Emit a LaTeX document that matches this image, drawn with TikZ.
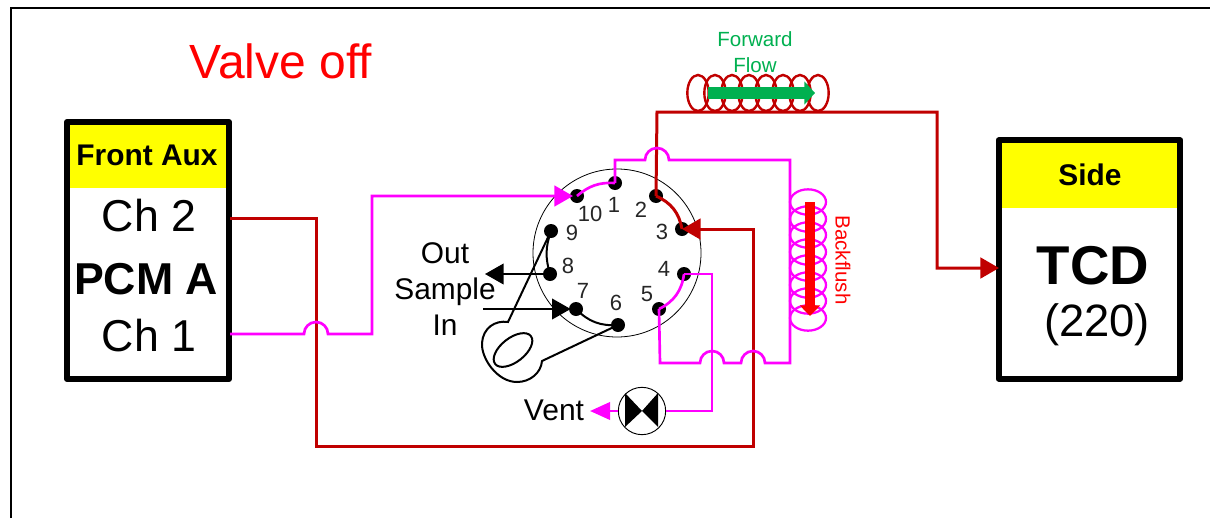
\documentclass[tikz,border=0pt]{standalone}
\usepackage{fontspec}
\setmainfont{Liberation Sans}
\usetikzlibrary{arrows.meta}
\usetikzlibrary{positioning}

\definecolor{darkred}{HTML}{C00000}
\definecolor{flowgreen}{HTML}{00B050}
\definecolor{hotpink}{HTML}{FF00FF}
\definecolor{headyellow}{HTML}{FFFF00}

\tikzset{
    port/.style={circle,fill=black,inner sep=0pt,minimum size=10.5pt},
    portnum/.style={inner sep=0pt,font=\fontsize{16.5}{16.5}\selectfont,text=black!85},
    pinkline/.style={hotpink,line width=2pt},
    redline/.style={darkred,line width=2.25pt},
    blackline/.style={black,line width=1.5pt},
    headtip/.style={-{Triangle[length=14pt,width=15.5pt]}},
    smalltip/.style={-{Triangle[length=15pt,width=13pt]}},
    box/.style={draw=black,line width=4.5pt,inner sep=0pt,line join=round},
    lbl/.style={inner sep=0pt,align=center},
}

\begin{document}
\begin{tikzpicture}[x=0.75pt,y=-0.75pt]
    \useasboundingbox (0,0) rectangle (1210,518);

    % frame
    \coordinate (fb) at (11,518);
    \coordinate (fa) at (11,8);
    \coordinate (fc) at (1210,8);
    \draw[line width=2.2pt] (fb)--(fa)--(fc);
    \node[lbl,text=red,font=\fontsize{36}{36}\selectfont] (title) at (281,61) {Valve off};

    % left box
    \fill[headyellow] (68,124) rectangle (229,188);
    \node[box,minimum width=121.5pt,minimum height=192.75pt] (pcm) at (148,250.5) {};
    \node[lbl,font=\fontsize{22.4}{22.4}\bfseries\selectfont] (aux) at (147,155) {Front Aux};
    \node[lbl,font=\fontsize{33.5}{33.5}\selectfont] (ch2) at (149,216) {Ch 2};
    \node[lbl,font=\fontsize{33.5}{33.5}\bfseries\selectfont] (pcma) at (146,279) {PCM A};
    \node[lbl,font=\fontsize{33.5}{33.5}\selectfont] (ch1) at (149,336) {Ch 1};

    % right box
    \fill[headyellow] (1000,141) rectangle (1180,208);
    \node[box,minimum width=136pt,minimum height=179pt] (tcd) at (1089.5,259.5) {};
    \node[lbl,font=\fontsize{22.4}{22.4}\bfseries\selectfont] (side) at (1090,175) {Side};
    \node[lbl,font=\fontsize{41}{41}\bfseries\selectfont] (tcdname) at (1093,266) {TCD};
    \node[lbl,font=\fontsize{34}{34}\selectfont] (num) at (1097,325) {(220)};

    % valve body
    \node[draw,circle,line width=0.6pt,inner sep=0pt,minimum size=126pt] (body) at (617,253) {};
    \foreach \name/\px/\py/\lx/\ly in {1/615/183/614/205,2/656/196/641/210,3/682/229/662/232,
        4/684/274/664/269,5/659/309/647/294,6/618/325/616/303,7/576/309/583/291,
        8/550/274/568/266,9/551/231/572/233,10/577/196/590/214} {
        \node[port] (p\name) at (\px,\py) {};
        \node[portnum] (n\name) at (\lx,\ly) {\name};
    }

    % forward coil
    \foreach \cx in {698,715,732,749,766,783,800,818}
        \draw[redline,line width=1.8pt] (\cx,93) ellipse (8pt and 13.5pt);
    \coordinate (fwdA) at (708,93);
    \coordinate (fwdB) at (815,93);
    \draw[flowgreen,line width=9pt,-{Triangle[length=8pt,width=17pt]}] (fwdA)--(fwdB);
    \node[lbl,text=flowgreen,font=\fontsize{15.4}{19.5}\selectfont] (fwdtxt) at (755,52) {Forward\\Flow};

    % backflush coil
    \foreach \cy in {202,219,235,252,268,285,301,318}
        \draw[pinkline,line width=1.7pt] (808,\cy) ellipse (13.5pt and 9.5pt);
    \coordinate (bckA) at (810,202);
    \coordinate (bckB) at (810,316);
    \draw[red,line width=8pt,-{Triangle[length=8pt,width=15pt]}] (bckA)--(bckB);
    \node[lbl,text=red,rotate=-90,font=\fontsize{15.4}{15.4}\selectfont] (bcktxt) at (843,260) {Backflush};

    % red lines
    \coordinate (r1) at (230,218);
    \coordinate (r2) at (316,218);
    \coordinate (r3) at (316,446);
    \coordinate (r4) at (753,446);
    \coordinate (r5) at (753,229);
    \draw[redline,headtip] (r1)--(r2)--(r3)--(r4)--(r5)--(p3.center);
    \coordinate (f1) at (657,112);
    \coordinate (f2) at (937,112);
    \coordinate (f3) at (937,268);
    \coordinate (f4) at (999,268);
    \draw[redline,headtip] (p2.center)--(f1)--(f2)--(f3)--(f4);
    \draw[redline] (p2.center) to[bend left=28] (p3.center);

    % pink lines
    \coordinate (m1) at (230,334);
    \coordinate (m2) at (372,334);
    \coordinate (m3) at (372,196);
    \draw[pinkline,headtip,shorten >=3pt] (m1)--(304,334) arc[start angle=180,end angle=0,radius=9pt]--(m2)--(m3)--(p10.center);
    \coordinate (m4) at (615,160);
    \coordinate (m5) at (790,160);
    \coordinate (m6) at (790,363);
    \coordinate (m7) at (660,363);
    \draw[pinkline] (p1.center)--(m4)--(645,160) arc[start angle=180,end angle=0,radius=9pt]--(m5)--(m6)
        --(765,363) arc[start angle=0,end angle=180,radius=9pt]
        --(724,363) arc[start angle=0,end angle=180,radius=9pt]--(m7)--(p5.center);
    \draw[pinkline] (p10.center) to[bend left=22] (p1.center);
    \draw[pinkline] (p4.center) to[bend left=28] (p5.center);

    % vent valve
    \node[draw,circle,line width=0.7pt,inner sep=0pt,minimum size=35.5pt] (vent) at (642,411) {};
    \fill (vent.center)--(625,393)--(625,427)--cycle;
    \fill (vent.center)--(658,393)--(658,427)--cycle;
    \coordinate (v1) at (712,274);
    \coordinate (v2) at (712,411);
    \coordinate (v3) at (590,411);
    \draw[pinkline] (p4.center)--(v1)--(v2)--(vent.east);
    \draw[pinkline,smalltip] (vent.west)--(v3);
    \node[lbl,font=\fontsize{22.5}{22.5}\selectfont] (venttxt) at (554,410) {Vent};

    % sample loop
    \coordinate (s8) at (485,274);
    \coordinate (s7) at (483,309);
    \draw[blackline,headtip] (p8.center)--(s8);
    \draw[blackline,headtip,shorten >=4pt] (s7)--(p7.center);
    \draw[blackline] (p9.center) to[bend right=18] (p8.center);
    \draw[blackline] (p7.center) to[bend right=25] (p6.center);
    \draw[blackline] (p9.center)--(508,322) .. controls (495,320) and (483,328) .. (482,343)
        .. controls (481,358) and (497,382) .. (517,382) .. controls (530,382) and (541,373) .. (542,361)--(p6.center);
    \draw[blackline,rotate around={38:(513,350)}] (513,350) ellipse (17pt and 9pt);
    \node[lbl,font=\fontsize{22.4}{27}\selectfont] (sample) at (445,289) {Out\\Sample\\In};
\end{tikzpicture}
\end{document}
